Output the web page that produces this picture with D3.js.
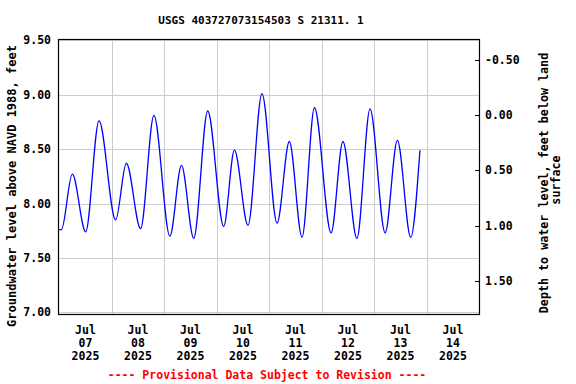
<!DOCTYPE html>
<html>
<head>
<meta charset="utf-8">
<script src="https://cdn.jsdelivr.net/npm/d3@7"></script>
<style>
  body { margin: 0; background: #fff; }
  text { font-family: "DejaVu Sans Mono", monospace; font-weight: bold; fill: #000; }
</style>
</head>
<body>
<div id="chart"></div>
<script>
// groundwater level readings
var times = [
    "2025-07-07 00:00", "2025-07-07 01:00", "2025-07-07 06:00", "2025-07-07 12:06",
    "2025-07-07 18:12", "2025-07-08 01:48", "2025-07-08 06:42", "2025-07-08 13:12",
    "2025-07-08 19:18", "2025-07-09 02:36", "2025-07-09 07:54", "2025-07-09 13:30",
    "2025-07-09 19:54", "2025-07-10 03:12", "2025-07-10 08:06", "2025-07-10 14:18",
    "2025-07-10 20:42", "2025-07-11 03:36", "2025-07-11 09:12", "2025-07-11 15:00",
    "2025-07-11 20:42", "2025-07-12 04:18", "2025-07-12 09:42", "2025-07-12 16:06",
    "2025-07-12 22:06", "2025-07-13 05:00", "2025-07-13 10:36", "2025-07-13 16:42",
    "2025-07-13 20:54"
];
var levels = [
    7.76, 7.76, 8.27, 7.74,
    8.76, 7.85, 8.37, 7.77,
    8.81, 7.70, 8.35, 7.68,
    8.85, 7.79, 8.49, 7.80,
    9.01, 7.82, 8.57, 7.69,
    8.88, 7.73, 8.57, 7.68,
    8.87, 7.73, 8.58, 7.69,
    8.49
];
var leftTicks = [7.0, 7.5, 8.0, 8.5, 9.0, 9.5];
var rightTicks = [-0.5, 0.0, 0.5, 1.0, 1.5];
var dayTicks = ["2025-07-07", "2025-07-08", "2025-07-09", "2025-07-10",
                "2025-07-11", "2025-07-12", "2025-07-13", "2025-07-14"];
var landSurface = 8.815;

var width = 576, height = 384;
var parseTime = d3.timeParse("%Y-%m-%d %H:%M");
var parseDay = d3.timeParse("%Y-%m-%d");

var data = times.map(function(t, i) {
    return {date: parseTime(t), value: levels[i]};
});

var svg = d3.select("#chart")
    .append("svg")
    .attr("width", width)
    .attr("height", height);

var x = d3.scaleTime()
    .domain([parseDay("2025-07-07"), parseDay("2025-07-15")])
    .range([59.2, 479.2]);
var y = d3.scaleLinear()
    .domain([7.0, 9.5])
    .range([312.3, 40.3]);
// depth axis is a little stretched in the original
var yDepth = d3.scaleLinear()
    .domain([-0.5, 1.5])
    .range([59.5, 281]);

// grid
svg.append("g")
    .selectAll("line")
    .data(leftTicks)
    .join("line")
    .attr("x1", 59).attr("x2", 479)
    .attr("y1", function(d) { return Math.round(y(d)) + 0.5; })
    .attr("y2", function(d) { return Math.round(y(d)) + 0.5; })
    .attr("stroke", "#cccccc");

var gridDays = d3.timeDay.range(parseDay("2025-07-08"), parseDay("2025-07-15"));
svg.append("g")
    .selectAll("line")
    .data(gridDays)
    .join("line")
    .attr("x1", function(d) { return Math.round(x(d)) + 0.5; })
    .attr("x2", function(d) { return Math.round(x(d)) + 0.5; })
    .attr("y1", 40).attr("y2", 314)
    .attr("stroke", "#cccccc");

// frame
svg.append("rect")
    .attr("x", 58.5).attr("y", 39.5)
    .attr("width", 421).attr("height", 275)
    .attr("fill", "none")
    .attr("stroke", "#000")
    .attr("stroke-width", 1.2);

// left axis labels
svg.append("g")
    .selectAll("text")
    .data(leftTicks)
    .join("text")
    .attr("x", 51)
    .attr("y", function(d) { return y(d); })
    .attr("dy", "0.35em")
    .attr("text-anchor", "end")
    .style("font-size", "11.5px")
    .text(d3.format(".2f"));

// right axis ticks + labels
var right = svg.append("g");
right.selectAll("line")
    .data(rightTicks)
    .join("line")
    .attr("x1", 475).attr("x2", 479)
    .attr("y1", function(d) { return Math.round(yDepth(d)) + 0.5; })
    .attr("y2", function(d) { return Math.round(yDepth(d)) + 0.5; })
    .attr("stroke", "#000");
right.selectAll("text")
    .data(rightTicks)
    .join("text")
    .attr("x", 485)
    .attr("y", function(d) { return yDepth(d); })
    .attr("dy", "0.35em")
    .style("font-size", "11.5px")
    .text(function(d) { return d3.format(".2f")(d).replace("\u2212", "-"); });

// date labels at noon
var xl = svg.append("g")
    .selectAll("text")
    .data(dayTicks)
    .join("text")
    .attr("text-anchor", "middle")
    .style("font-size", "11.5px")
    .attr("transform", function(d) {
        var t = d3.timeHour.offset(parseDay(d), 12);
        return "translate(" + x(t) + ",334)";
    });
xl.append("tspan").attr("x", 0).attr("y", 0).text("Jul");
xl.append("tspan").attr("x", 0).attr("y", 13).text(function(d) { return d.slice(8); });
xl.append("tspan").attr("x", 0).attr("y", 26).text("2025");

// the series
var line = d3.line()
    .x(function(d) { return x(d.date); })
    .y(function(d) { return y(d.value); })
    .curve(d3.curveMonotoneX);

svg.append("path")
    .datum(data)
    .attr("d", line)
    .attr("fill", "none")
    .attr("stroke", "#0000ff")
    .attr("stroke-width", 1.3);

// titles
svg.append("text")
    .attr("x", 261).attr("y", 24)
    .attr("text-anchor", "middle")
    .style("font-size", "11px")
    .text("USGS 403727073154503 S 21311. 1");

svg.append("text")
    .attr("transform", "translate(16,186) rotate(-90)")
    .attr("text-anchor", "middle")
    .style("font-size", "12px")
    .text("Groundwater level above NAVD 1988, feet");

svg.append("text")
    .attr("transform", "translate(548,183) rotate(-90)")
    .attr("text-anchor", "middle")
    .style("font-size", "11.7px")
    .text("Depth to water level, feet below land");
svg.append("text")
    .attr("transform", "translate(560,180) rotate(-90)")
    .attr("text-anchor", "middle")
    .style("font-size", "11.7px")
    .text("surface");

svg.append("text")
    .attr("x", 267).attr("y", 379)
    .attr("text-anchor", "middle")
    .style("font-size", "11.5px")
    .style("fill", "#ff0000")
    .text("---- Provisional Data Subject to Revision ----");
</script>
</body>
</html>
